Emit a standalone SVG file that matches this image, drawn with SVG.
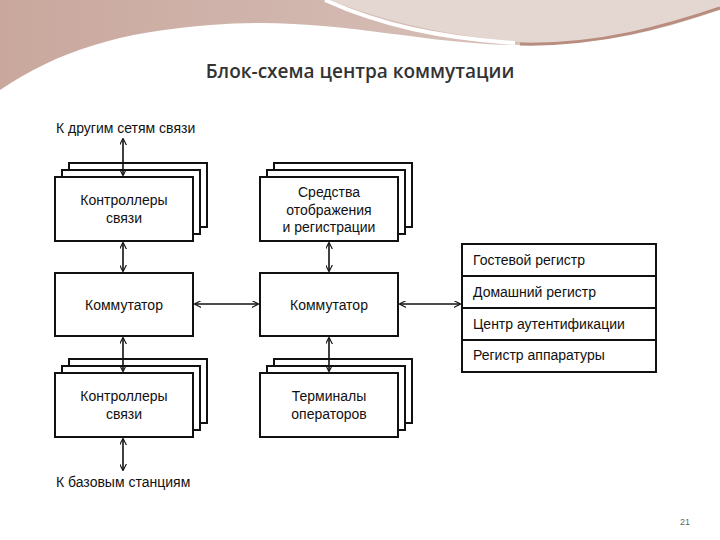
<svg xmlns="http://www.w3.org/2000/svg" width="720" height="540" viewBox="0 0 720 540">
<defs>
<style>
.b{fill:#fff;stroke:#111;stroke-width:2}
.t{font-family:"Liberation Sans",Arial,sans-serif;font-size:14px;fill:#111}
.c{stroke:#111;stroke-width:1.6;fill:none;marker-start:url(#a);marker-end:url(#a)}
</style>
<marker id="a" viewBox="0 0 10 10" refX="9" refY="5" markerWidth="7" markerHeight="7" orient="auto-start-reverse" markerUnits="userSpaceOnUse"><path d="M0,0 L10,5 L0,10" fill="none" stroke="#111" stroke-width="1.6"/></marker>
<linearGradient id="g" x1="0" x2="1"><stop offset="0" stop-color="#c9a79d"/><stop offset="1" stop-color="#dccbc4"/></linearGradient>
</defs>
<rect width="720" height="540" fill="#fff"/>
<path d="M0,0 H720 V10 C650,25 600,45 520,45 C420,45 330,15 210,25 C120,32 60,50 0,90 Z" fill="url(#g)"/>
<path d="M330,0 C380,20 440,35 520,42 C600,48 660,30 720,10 V0 Z" fill="#e4d6d0"/>
<path d="M325,0 C380,25 440,38 515,43" stroke="#fff" stroke-width="4" fill="none"/>
<path d="M520,44 C600,46 670,25 720,8" stroke="#b88c7e" stroke-width="3" fill="none"/>
<text x="360" y="78" text-anchor="middle" font-family="'Open Sans','Liberation Sans',sans-serif" font-size="19" font-weight="600" fill="#333">Блок-схема центра коммутации</text>
<text class="t" x="56" y="133">К другим сетям связи</text>
<text class="t" x="56" y="487">К базовым станциям</text>
<g id="ctrl1"><rect class="b" x="69" y="163" width="138" height="64"/><rect class="b" x="62" y="170" width="138" height="64"/><rect class="b" x="55" y="177" width="138" height="64"/><text class="t" x="124" y="205" text-anchor="middle">Контроллеры</text><text class="t" x="124" y="223" text-anchor="middle">связи</text></g>
<g id="disp"><rect class="b" x="274" y="163" width="138" height="64"/><rect class="b" x="267" y="170" width="138" height="64"/><rect class="b" x="260" y="177" width="138" height="64"/><text class="t" x="329" y="197" text-anchor="middle">Средства</text><text class="t" x="329" y="215" text-anchor="middle" font-size="13">отображения</text><text class="t" x="329" y="232" text-anchor="middle" font-size="13">и регистрации</text></g>
<g id="sw1"><rect class="b" x="55" y="273" width="138" height="63"/><text class="t" x="124" y="310" text-anchor="middle">Коммутатор</text></g>
<g id="sw2"><rect class="b" x="260" y="273" width="138" height="63"/><text class="t" x="329" y="310" text-anchor="middle">Коммутатор</text></g>
<g id="ctrl2"><rect class="b" x="69" y="359" width="138" height="64"/><rect class="b" x="62" y="366" width="138" height="64"/><rect class="b" x="55" y="373" width="138" height="64"/><text class="t" x="124" y="401" text-anchor="middle">Контроллеры</text><text class="t" x="124" y="419" text-anchor="middle">связи</text></g>
<g id="term"><rect class="b" x="274" y="359" width="138" height="64"/><rect class="b" x="267" y="366" width="138" height="64"/><rect class="b" x="260" y="373" width="138" height="64"/><text class="t" x="329" y="401" text-anchor="middle">Терминалы</text><text class="t" x="329" y="419" text-anchor="middle">операторов</text></g>
<g id="reg"><rect class="b" x="462" y="244" width="194" height="128"/><line class="b" x1="462" y1="276" x2="656" y2="276"/><line class="b" x1="462" y1="308" x2="656" y2="308"/><line class="b" x1="462" y1="340" x2="656" y2="340"/>
<text class="t" x="473" y="265">Гостевой регистр</text><text class="t" x="473" y="297">Домашний регистр</text><text class="t" x="473" y="329">Центр аутентификации</text><text class="t" x="473" y="360">Регистр аппаратуры</text></g>
<g id="connectors">
<line class="c" x1="123" y1="139" x2="123" y2="175"/>
<line class="c" x1="123" y1="243" x2="123" y2="271"/>
<line class="c" x1="123" y1="338" x2="123" y2="371"/>
<line class="c" x1="123" y1="439" x2="123" y2="470"/>
<line class="c" x1="329" y1="243" x2="329" y2="271"/>
<line class="c" x1="329" y1="338" x2="329" y2="371"/>
<line class="c" x1="195" y1="304" x2="258" y2="304"/>
<line class="c" x1="400" y1="304" x2="460" y2="304"/>
</g>
<text x="680" y="525" font-family="'Liberation Sans',sans-serif" font-size="9" fill="#666">21</text>
</svg>
